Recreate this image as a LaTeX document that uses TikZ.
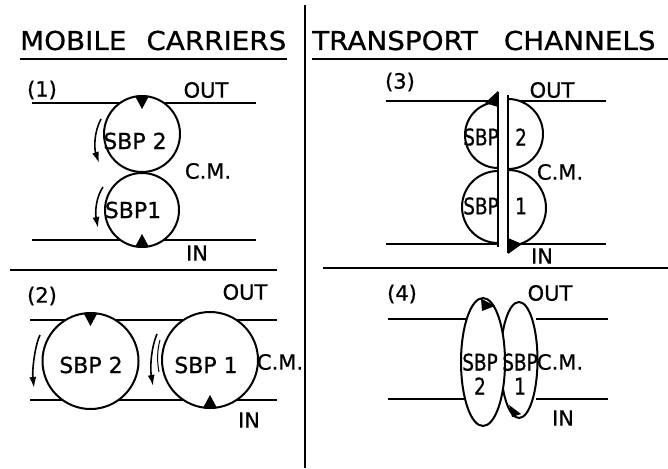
\documentclass[tikz,border=0pt]{standalone}
\usepackage{fontspec}
\setmainfont{DejaVu Sans}[FakeBold=0.8]
\newfontfamily\titlefont{DejaVu Sans}[FakeStretch=1.07, FakeBold=0.8]
\newfontfamily\narrowfont{DejaVu Sans}[FakeStretch=0.8, FakeBold=0.8]
\usetikzlibrary{arrows.meta,shapes.geometric}
\tikzset{
  membrane/.style={line width=1.8pt},
  divider/.style={line width=1.6pt},
  sbp/.style={circle, draw, line width=2pt, fill=white, inner sep=0pt},
  pore/.style={ellipse, draw, line width=2pt, fill=white, inner sep=0pt},
  half/.style={draw, line width=2pt, fill=white},
  turn/.style={-{Latex[length=11pt, width=7pt]}, line width=1.6pt},
  site/.style={fill=black},
  tag/.style={font=\fontsize{21}{22}\selectfont, inner sep=0pt},
  sbptext/.style={font=\fontsize{22}{24}\selectfont, inner sep=0pt},
  chantext/.style={font=\narrowfont\fontsize{23}{24}\selectfont, inner sep=0pt, align=center},
  heading/.style={font=\titlefont\fontsize{26}{28}\selectfont, inner sep=0pt, anchor=base west}
}

\begin{document}
\begin{tikzpicture}[x=1pt, y=-1pt]
  \useasboundingbox (0,0) rectangle (668,468);

  % headings and dividers
  \node[heading] (mobile) at (20,50) {MOBILE\hspace*{20pt}CARRIERS};
  \node[heading] (channel) at (312,50) {TRANSPORT\hspace*{26pt}CHANNELS};
  \draw[divider] ([yshift=-9pt]mobile.base west) -- ([yshift=-9pt]mobile.base east);
  \draw[divider] ([yshift=-9pt]channel.base west) -- (668,59);
  \draw[divider] (305,5) -- (305,468);
  \draw[divider] (10,270) -- (277,270);
  \draw[divider] (323,268) -- (668,268);

  % (1) carriers in series
  \foreach \y in {103,240} \draw[membrane] (32,\y) -- (256,\y);
  \node[sbp, minimum size=76pt] (c1top) at (142,134) {};
  \node[sbp, minimum size=74pt] (c1bot) at (142,210) {};
  \fill[site] ([xshift=-7pt,yshift=-1pt]c1top.north) -- ([xshift=7pt,yshift=-1pt]c1top.north)
    -- ([yshift=-14pt]c1top.north) -- cycle;
  \fill[site] ([xshift=-7pt,yshift=1pt]c1bot.south) -- ([xshift=7pt,yshift=1pt]c1bot.south)
    -- ([yshift=14pt]c1bot.south) -- cycle;
  \draw[turn] (101,119) .. controls (94,132) and (94,148) .. (99,163);
  \draw[turn] (103,187) .. controls (96,197) and (95,212) .. (98,228);
  \node[tag] (n1) at (42,90) {(1)};
  \node[tag] (out1) at (206,90) {OUT};
  \node[tag] (cm1) at (208,171) {C.M.};
  \node[tag] (in1) at (197,253) {IN};
  \node[sbptext] (t1top) at (135,141) {SBP 2};
  \node[sbptext] (t1bot) at (133,210) {SBP1};

  % (2) carriers side by side
  \foreach \y in {320,400} \draw[membrane] (30,\y) -- (277,\y);
  \node[sbp, minimum size=96pt] (c2left) at (90.5,361) {};
  \node[sbp, minimum size=96pt] (c2right) at (210,360) {};
  \fill[site] ([xshift=-7pt,yshift=-1pt]c2left.north) -- ([xshift=7pt,yshift=-1pt]c2left.north)
    -- ([yshift=-14pt]c2left.north) -- cycle;
  \fill[site] ([xshift=-7pt,yshift=1pt]c2right.south) -- ([xshift=7pt,yshift=1pt]c2right.south)
    -- ([yshift=14pt]c2right.south) -- cycle;
  \draw[turn] (40,335) .. controls (35,345) and (32,370) .. (34,388);
  \draw[turn] (157,334) .. controls (151,348) and (150,368) .. (153,386);
  \draw[line width=1pt] (160,340) .. controls (157,350) and (157,362) .. (159,372);
  \node[tag] (n2) at (42,296) {(2)};
  \node[tag] (out2) at (245,292) {OUT};
  \node[tag] (cm2) at (280,362) {C.M.};
  \node[tag] (in2) at (249,420) {IN};
  \node[sbptext] (t2left) at (91,365) {SBP 2};
  \node[sbptext] (t2right) at (206,365) {SBP 1};

  % (3) split channel
  \foreach \y in {101,244} {
    \draw[membrane] (386,\y) -- (498,\y);
    \draw[membrane] (508,\y) -- (606,\y);
  }
  \draw[half] (498,102) arc[start angle=90, end angle=270, radius=33pt];
  \draw[half] (508,99) arc[start angle=90, end angle=-90, radius=35pt];
  \draw[half] (498,171) arc[start angle=90, end angle=270, radius=36pt];
  \draw[half] (508,170) arc[start angle=90, end angle=-90, radius=38pt];
  \draw[line width=2pt] (498,92) -- (498,247);
  \draw[line width=2pt] (508,95) -- (508,253);
  \fill[site] (498,91) -- (485,103) -- (498,107) -- cycle;
  \fill[site] (508,254) -- (508,238) -- (522,244) -- cycle;
  \node[tag] (n3) at (400,82) {(3)};
  \node[tag] (out3) at (552,90) {OUT};
  \node[tag] (cm3) at (560,172) {C.M.};
  \node[tag] (in3) at (542,256) {IN};
  \node[chantext] (t3a) at (481,137) {SBP};
  \node[chantext] (t3b) at (521,137) {2};
  \node[chantext] (t3c) at (481,206) {SBP};
  \node[chantext] (t3d) at (521,206) {1};

  % (4) channel of two subunits
  \foreach \y in {319,399} {
    \draw[membrane] (388,\y) -- (466,\y);
    \draw[membrane] (536,\y) -- (608,\y);
  }
  \node[pore, minimum width=37pt, minimum height=116pt] (p4right) at (519,360) {};
  \node[pore, minimum width=44pt, minimum height=128pt] (p4left) at (483,362) {};
  \fill[site] (481,298.5) -- (495,306) -- (482,311) -- cycle;
  \fill[site] (509,405) -- (521,414) -- (512,417) -- cycle;
  \node[tag] (n4) at (402,294) {(4)};
  \node[tag] (out4) at (550,293) {OUT};
  \node[tag] (cm4) at (560,362) {C.M.};
  \node[tag] (in4) at (563,418) {IN};
  \node[chantext] (t4left) at (480,374) {SBP\\2};
  \node[chantext] (t4right) at (520,374) {SBP\\1};
\end{tikzpicture}
\end{document}
